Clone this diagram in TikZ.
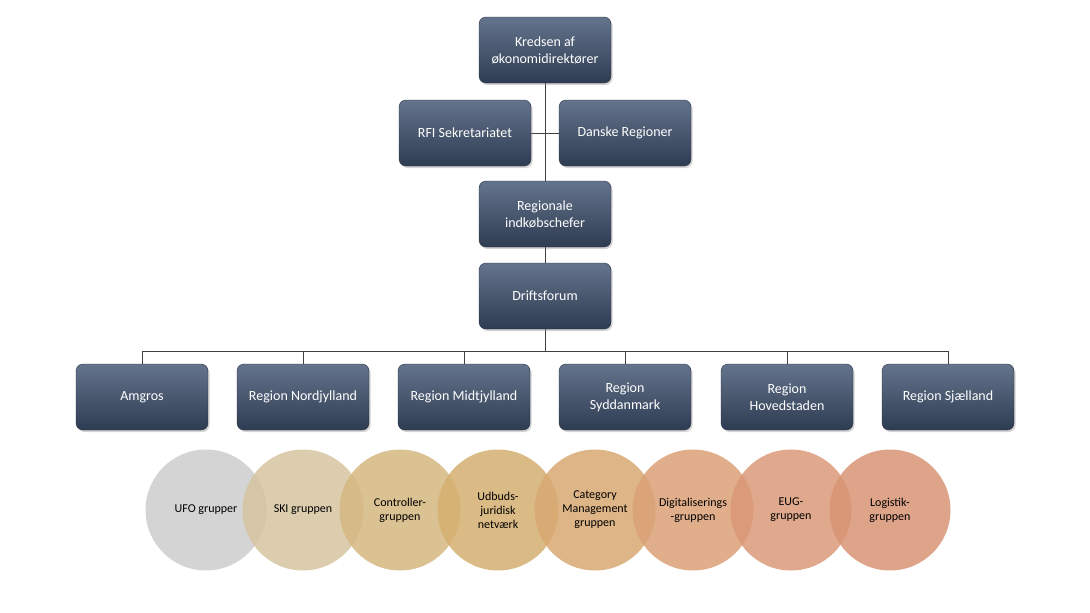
\documentclass[tikz,border=0pt]{standalone}
\usepackage{fontspec}
\setmainfont{Carlito}
\usetikzlibrary{shadows}
\begin{document}
\begin{tikzpicture}[x=1pt,y=-1pt,
 box/.style={rounded corners=7pt,minimum width=132pt,minimum height=66pt,top color=blue!0!black!0!white!0!boxtop,bottom color=boxbot,draw=boxbot!80!black,line width=0.4pt,text=white,align=center,font=\fontsize{14}{17}\selectfont,drop shadow={shadow xshift=1.5pt,shadow yshift=-2pt,opacity=0.35}},
 circ/.style={circle,minimum size=121pt,inner sep=0pt,fill opacity=0.85,text opacity=1,align=center,font=\fontsize{12}{14}\selectfont},
 ln/.style={draw=black!75,line width=0.7pt}]
\definecolor{boxtop}{HTML}{64748C}
\definecolor{boxbot}{HTML}{2E3C52}
\useasboundingbox (0,0) rectangle (1090,613);
\draw[ln] (545,50) -- (545,351);
\draw[ln] (142,364) -- (142,351) -- (948,351) -- (948,364);
\foreach \x in {303,464,625,787} \draw[ln] (\x,351) -- (\x,364);
\draw[ln] (465,133) -- (625,133);
\node[box] (k) at (545,50) {Kredsen af\\økonomidirektører};
\node[box] (rfi) at (465,133) {RFI Sekretariatet};
\node[box] (dr) at (625,133) {Danske Regioner};
\node[box] (ri) at (545,214) {Regionale\\indkøbschefer};
\node[box] (df) at (545,296) {Driftsforum};
\node[box] (a) at (142,397) {Amgros};
\node[box] (b) at (303,397) {Region Nordjylland};
\node[box] (c) at (464,397) {Region Midtjylland};
\node[box] (d) at (625,397) {Region\\Syddanmark};
\node[box] (e) at (787,397) {Region\\Hovedstaden};
\node[box] (f) at (948,397) {Region Sjælland};
\node[circ,fill={rgb,255:red,205;green,205;blue,205}] (c1) at (206,510) {UFO grupper};
\node[circ,fill={rgb,255:red,214;green,196;blue,160}] (c2) at (303,510) {SKI gruppen};
\node[circ,fill={rgb,255:red,213;green,183;blue,128}] (c3) at (400,510) {Controller-\\gruppen};
\node[circ,fill={rgb,255:red,213;green,175;blue,112}] (c4) at (498,510) {Udbuds-\\juridisk\\netværk};
\node[circ,fill={rgb,255:red,216;green,168;blue,114}] (c5) at (595,510) {Category\\Management\\gruppen};
\node[circ,fill={rgb,255:red,218;green,160;blue,118}] (c6) at (693,510) {Digitaliserings\\-gruppen};
\node[circ,fill={rgb,255:red,218;green,153;blue,120}] (c7) at (791,510) {EUG-\\gruppen};
\node[circ,fill={rgb,255:red,216;green,148;blue,116}] (c8) at (890,510) {Logistik-\\gruppen};
\end{tikzpicture}
\end{document}
